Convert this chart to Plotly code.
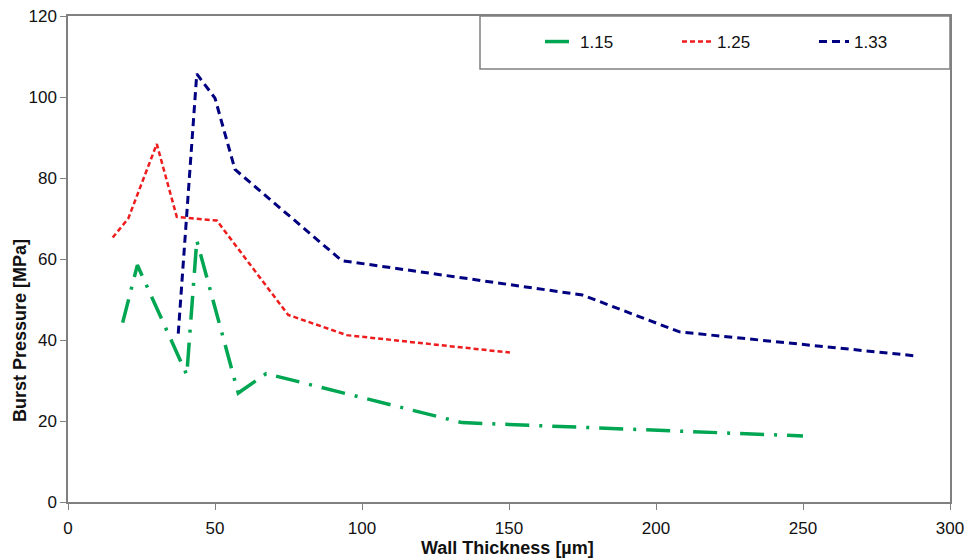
import plotly.graph_objects as go

# Data
x_115 = [18.6, 23.6, 40.4, 43.8, 57.9, 67.4, 134.0, 250.0]
y_115 = [44.3, 58.5, 31.4, 64.6, 26.9, 31.7, 19.6, 16.3]

x_125 = [15.2, 20.5, 30.2, 37.0, 50.6, 74.9, 94.8, 150.3]
y_125 = [65.3, 70.0, 88.4, 70.4, 69.5, 46.2, 41.2, 36.9]

x_133 = [37.5, 43.8, 50.0, 56.8, 93.1, 175.0, 208.0, 288.0]
y_133 = [41.6, 105.7, 99.7, 82.1, 59.6, 51.1, 42.0, 36.1]

series_names = ["1.15", "1.25", "1.33"]
x_ticks = [0, 50, 100, 150, 200, 250, 300]
y_ticks = [0, 20, 40, 60, 80, 100, 120]

FONT = "Liberation Sans, Arial, sans-serif"

fig = go.Figure()
fig.add_trace(go.Scatter(x=x_115, y=y_115, mode="lines", name=series_names[0],
                         line=dict(color="#00a651", width=3.5, dash="24px,10px,3px,10px")))
fig.add_trace(go.Scatter(x=x_125, y=y_125, mode="lines", name=series_names[1],
                         line=dict(color="#ee1c1c", width=2.5, dash="5px,3px")))
fig.add_trace(go.Scatter(x=x_133, y=y_133, mode="lines", name=series_names[2],
                         line=dict(color="#000080", width=3, dash="8px,5px")))

axis_common = dict(showgrid=False, zeroline=False, showline=True, linecolor="#808080",
                   linewidth=1.5, mirror=True, ticks="outside", ticklen=6, automargin=False,
                   tickcolor="#808080", tickfont=dict(family=FONT, size=17, color="#111"))

fig.update_xaxes(range=[0, 300], tickvals=x_ticks, ticklabelstandoff=4, **axis_common)
fig.update_yaxes(range=[0, 120], tickvals=y_ticks, **axis_common)

fig.update_layout(
    width=969, height=560,
    margin=dict(l=68, r=19, t=16, b=58, pad=0),
    plot_bgcolor="white", paper_bgcolor="white",
    showlegend=True,
    legend=dict(orientation="h", x=(540 - 68) / 882, y=(502 - 42) / 486,
                xanchor="left", yanchor="middle",
                bgcolor="rgba(0,0,0,0)", borderwidth=0,
                font=dict(family=FONT, size=17, color="#111"),
                entrywidth=92, entrywidthmode="pixels", itemwidth=30),
    shapes=[dict(type="rect", xref="paper", yref="paper",
                 x0=(480 - 68) / 882, x1=1.0, y0=(502 - 69) / 486, y1=1.0,
                 line=dict(color="#808080", width=1.5), fillcolor="white", layer="above")],
    annotations=[
        dict(text="<b>Wall Thickness [µm]</b>", xref="paper", yref="paper",
             x=(507 - 68) / 882, y=(502 - 548) / 486, xanchor="center", yanchor="middle",
             showarrow=False, font=dict(family=FONT, size=18, color="#111")),
        dict(text="<b>Burst Pressure [MPa]</b>", xref="paper", yref="paper",
             x=(20 - 68) / 882, y=(502 - 331) / 486, xanchor="center", yanchor="middle",
             textangle=-90, showarrow=False, font=dict(family=FONT, size=18, color="#111")),
    ],
)

fig.write_html("out.html", config={"displayModeBar": False},
               post_script="document.body.style.margin='0';document.body.style.padding='0';")
